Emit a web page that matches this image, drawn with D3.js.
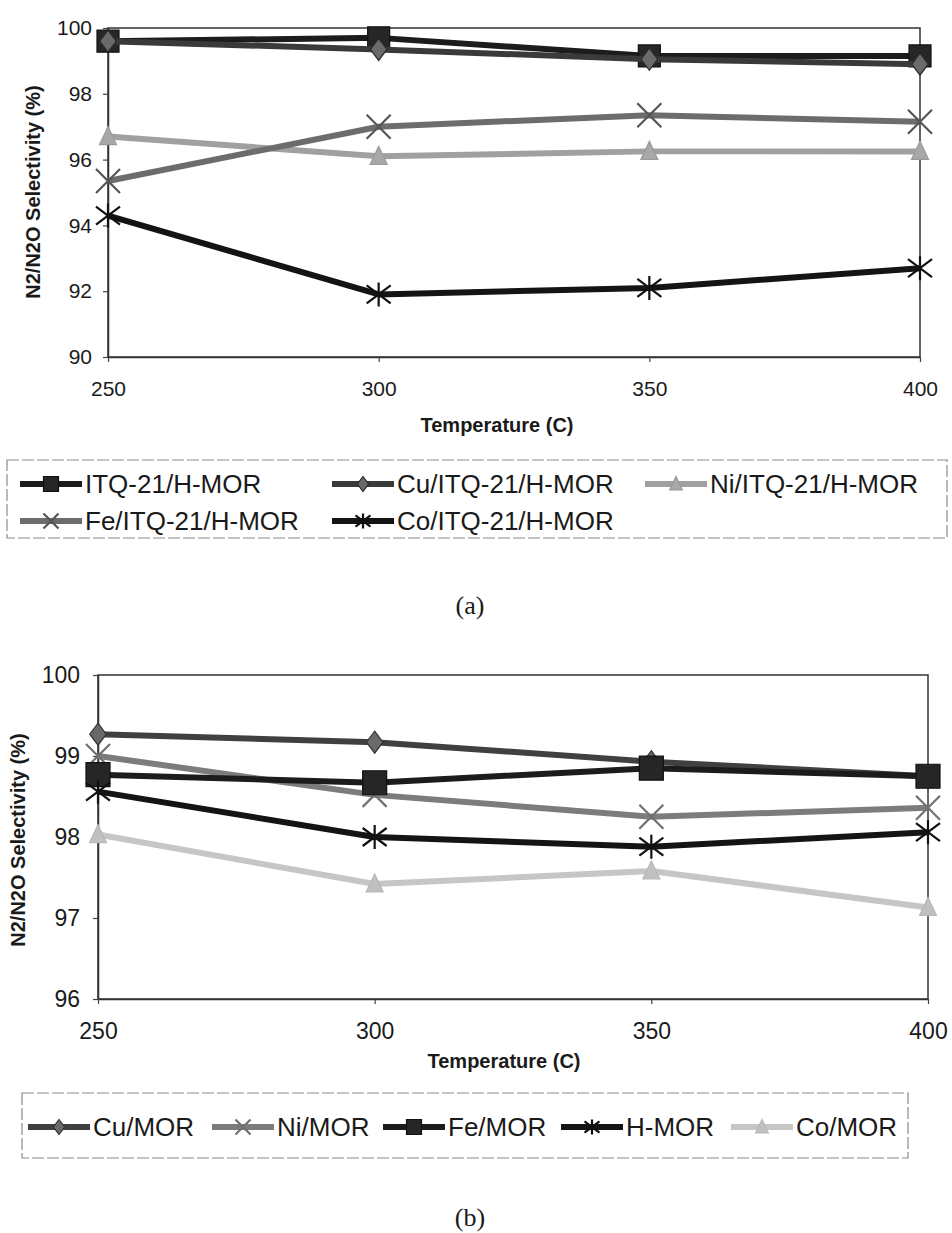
<!DOCTYPE html>
<html>
<head>
<meta charset="utf-8">
<script src="https://cdn.jsdelivr.net/npm/d3@7"></script>
<style>
	body { margin: 0; background: white; }
	svg text { font-family: Arial, "Liberation Sans", sans-serif; fill: #1a1a1a; }
</style>
</head>
<body>
<svg id="canvas" width="952" height="1233"></svg>
<script>

//****************************************************************************************************************************//
// Data

var temperatures = [250, 300, 350, 400];

// (a) ITQ-21/H-MOR catalysts
var itqTicksY = [90, 92, 94, 96, 98, 100];
var itqNames = ["ITQ-21/H-MOR", "Cu/ITQ-21/H-MOR", "Ni/ITQ-21/H-MOR", "Fe/ITQ-21/H-MOR", "Co/ITQ-21/H-MOR"];
var itqHmor   = [99.6, 99.7, 99.15, 99.15];
var itqCu     = [99.6, 99.35, 99.05, 98.9];
var itqNi     = [96.7, 96.1, 96.25, 96.25];
var itqFe     = [95.35, 97.0, 97.35, 97.15];
var itqCo     = [94.3, 91.9, 92.1, 92.7];

// (b) MOR catalysts
var morTicksY = [96, 97, 98, 99, 100];
var morNames = ["Cu/MOR", "Ni/MOR", "Fe/MOR", "H-MOR", "Co/MOR"];
var morCu = [99.27, 99.17, 98.93, 98.75];
var morNi = [99.0, 98.52, 98.25, 98.36];
var morFe = [98.77, 98.67, 98.85, 98.75];
var morH  = [98.56, 98.0, 97.88, 98.06];
var morCo = [98.03, 97.42, 97.58, 97.13];

//****************************************************************************************************************************//
// Styles

var itqStyles = [
	{ values : itqHmor, line : "#1c1c1c", fill : "#262626", stroke : "#111",    symbol : "square",   size : 22 },
	{ values : itqCu,   line : "#3a3a3a", fill : "#6a6a6a", stroke : "#2a2a2a", symbol : "diamond",  size : 22 },
	{ values : itqNi,   line : "#a0a0a0", fill : "#a8a8a8", stroke : "#9a9a9a", symbol : "triangle", size : 20 },
	{ values : itqFe,   line : "#6c6c6c", fill : "none",    stroke : "#555",    symbol : "x",        size : 24 },
	{ values : itqCo,   line : "#141414", fill : "none",    stroke : "#111",    symbol : "asterisk", size : 24 }
];

var morStyles = [
	{ values : morCu, line : "#404040", fill : "#6a6a6a", stroke : "#333",    symbol : "diamond",  size : 22 },
	{ values : morNi, line : "#7c7c7c", fill : "none",    stroke : "#707070", symbol : "x",        size : 24 },
	{ values : morFe, line : "#1c1c1c", fill : "#262626", stroke : "#111",    symbol : "square",   size : 24 },
	{ values : morH,  line : "#141414", fill : "none",    stroke : "#111",    symbol : "asterisk", size : 24 },
	{ values : morCo, line : "#c6c6c6", fill : "#c0c0c0", stroke : "#b8b8b8", symbol : "triangle", size : 20 }
];

var canvas = d3.select("#canvas");

//****************************************************************************************************************************//
// Marker paths

function markerPath(type, s){
	var h = s/2;
	if(type == "square") return "M" +(-h)+ "," +(-h)+ "H" +h+ "V" +h+ "H" +(-h)+ "Z";
	if(type == "diamond") return "M0," +(-h)+ "L" +(0.75*h)+ ",0L0," +h+ "L" +(-0.75*h)+ ",0Z";
	if(type == "triangle") return "M0," +(-h)+ "L" +(0.85*h)+ "," +(0.8*h)+ "L" +(-0.85*h)+ "," +(0.8*h)+ "Z";
	if(type == "x") return "M" +(-h)+ "," +(-h)+ "L" +h+ "," +h+ "M" +h+ "," +(-h)+ "L" +(-h)+ "," +h;
	if(type == "asterisk") return "M" +(-h)+ "," +(-0.75*h)+ "L" +h+ "," +(0.75*h)+ "M" +h+ "," +(-0.75*h)+ "L" +(-h)+ "," +(0.75*h)+ "M0," +(-h)+ "L0," +h;
	return "";
}

function drawMarker(g, st, x, y, s){
	var stroked = (st.symbol == "x" || st.symbol == "asterisk");
	g.append("path")
		.attr("transform", "translate(" +x+ "," +y+ ")")
		.attr("d", markerPath(st.symbol, s))
		.attr("fill", stroked ? "none" : st.fill)
		.attr("stroke", st.stroke)
		.attr("stroke-width", stroked ? 2.2 : 1.2);
}

//****************************************************************************************************************************//
// Chart

function createChart(opt){

	var xScale = d3.scalePoint()
					.domain(temperatures)
					.range([opt.left, opt.right]);

	var yScale = d3.scaleLinear()
					.domain(d3.extent(opt.ticksY))
					.range([opt.bottom, opt.top]);

	var chart = canvas.append("g");

	// frame
	chart.append("rect")
		.attr("x", opt.left)
		.attr("y", opt.top)
		.attr("width", opt.right - opt.left)
		.attr("height", opt.bottom - opt.top)
		.attr("fill", "none")
		.attr("stroke", "#333")
		.attr("stroke-width", 1.5);

	// x Axis
	var xAxis = d3.axisBottom(xScale)
					.tickSize(5)
					.tickSizeOuter(0)
					.tickPadding(opt.xPad);

	var xAxisGroup = chart.append("g")
					.attr("transform", "translate(0," +opt.bottom+ ")")
					.call(xAxis);

	// y Axis
	var yAxis = d3.axisLeft(yScale)
					.tickValues(opt.ticksY)
					.tickFormat(d3.format("d"))
					.tickSize(5)
					.tickSizeOuter(0)
					.tickPadding(opt.yPad);

	var yAxisGroup = chart.append("g")
					.attr("transform", "translate(" +opt.left+ ",0)")
					.call(yAxis);

	[xAxisGroup, yAxisGroup].forEach(function(ax){
		ax.select(".domain").attr("stroke", "#333").attr("stroke-width", 1.5);
		ax.selectAll(".tick line").attr("stroke", "#444").attr("stroke-width", 1.2);
		ax.selectAll(".tick text")
			.style("font-family", "Arial, 'Liberation Sans', sans-serif")
			.style("font-size", opt.tickFont + "px")
			.attr("fill", "#1a1a1a");
	});

	// axis titles
	chart.append("text")
		.attr("x", opt.xTitle.x)
		.attr("y", opt.xTitle.y)
		.attr("text-anchor", "middle")
		.attr("dominant-baseline", "middle")
		.style("font-size", "20px")
		.style("font-weight", "bold")
		.text("Temperature (C)");

	chart.append("text")
		.attr("transform", "translate(" +opt.yTitle.x+ "," +opt.yTitle.y+ ") rotate(-90)")
		.attr("text-anchor", "middle")
		.attr("dominant-baseline", "middle")
		.style("font-size", opt.yTitleFont + "px")
		.style("font-weight", "bold")
		.text("N2/N2O Selectivity (%)");

	// series
	var line = d3.line()
					.x(function(d, i){ return xScale(temperatures[i]); })
					.y(function(d){ return yScale(d); });

	opt.styles.forEach(function(st){
		var g = chart.append("g");
		g.append("path")
			.attr("d", line(st.values))
			.attr("fill", "none")
			.attr("stroke", st.line)
			.attr("stroke-width", 6)
			.attr("stroke-linejoin", "round");
		st.values.forEach(function(v, i){
			drawMarker(g, st, xScale(temperatures[i]), yScale(v), st.size);
		});
	});

	// legend
	var legend = canvas.append("g");
	legend.append("rect")
		.attr("x", opt.legendBox.x)
		.attr("y", opt.legendBox.y)
		.attr("width", opt.legendBox.w)
		.attr("height", opt.legendBox.h)
		.attr("fill", "none")
		.attr("stroke", "#8a8a8a")
		.attr("stroke-width", 1.2)
		.attr("stroke-dasharray", "12,3");

	opt.styles.forEach(function(st, i){
		var pos = opt.legendPos[i];
		var item = legend.append("g")
						.attr("transform", "translate(" +pos[0]+ "," +pos[1]+ ")");
		item.append("line")
			.attr("x1", 0)
			.attr("x2", 62)
			.attr("y1", 0)
			.attr("y2", 0)
			.attr("stroke", st.line)
			.attr("stroke-width", 6);
		drawMarker(item, st, 31, 0, 15);
		item.append("text")
			.attr("x", 65)
			.attr("y", 0)
			.attr("dominant-baseline", "central")
			.style("font-size", opt.legendFont + "px")
			.text(opt.names[i]);
	});

	// caption
	canvas.append("text")
		.attr("x", 470)
		.attr("y", opt.captionY)
		.attr("text-anchor", "middle")
		.attr("dominant-baseline", "middle")
		.style("font-family", "'Liberation Serif', 'Times New Roman', serif")
		.style("font-size", "26px")
		.text(opt.caption);
}

//****************************************************************************************************************************//
// Build both panels

createChart({
	left : 108, right : 920, top : 28, bottom : 357,
	ticksY : itqTicksY, styles : itqStyles, names : itqNames,
	tickFont : 21, xPad : 19, yPad : 11,
	xTitle : { x : 497, y : 427 },
	yTitle : { x : 35, y : 192 }, yTitleFont : 20,
	legendBox : { x : 7, y : 460, w : 940, h : 78 },
	legendPos : [[20, 484], [332, 484], [645, 484], [20, 521], [332, 521]],
	legendFont : 26,
	caption : "(a)", captionY : 608
});

createChart({
	left : 98, right : 928, top : 675, bottom : 999,
	ticksY : morTicksY, styles : morStyles, names : morNames,
	tickFont : 23, xPad : 19, yPad : 13,
	xTitle : { x : 504, y : 1063 },
	yTitle : { x : 20, y : 840 }, yTitleFont : 20,
	legendBox : { x : 22, y : 1093, w : 886, h : 65 },
	legendPos : [[28, 1127], [212, 1127], [383, 1127], [561, 1127], [731, 1127]],
	legendFont : 26,
	caption : "(b)", captionY : 1220
});

</script>
</body>
</html>
